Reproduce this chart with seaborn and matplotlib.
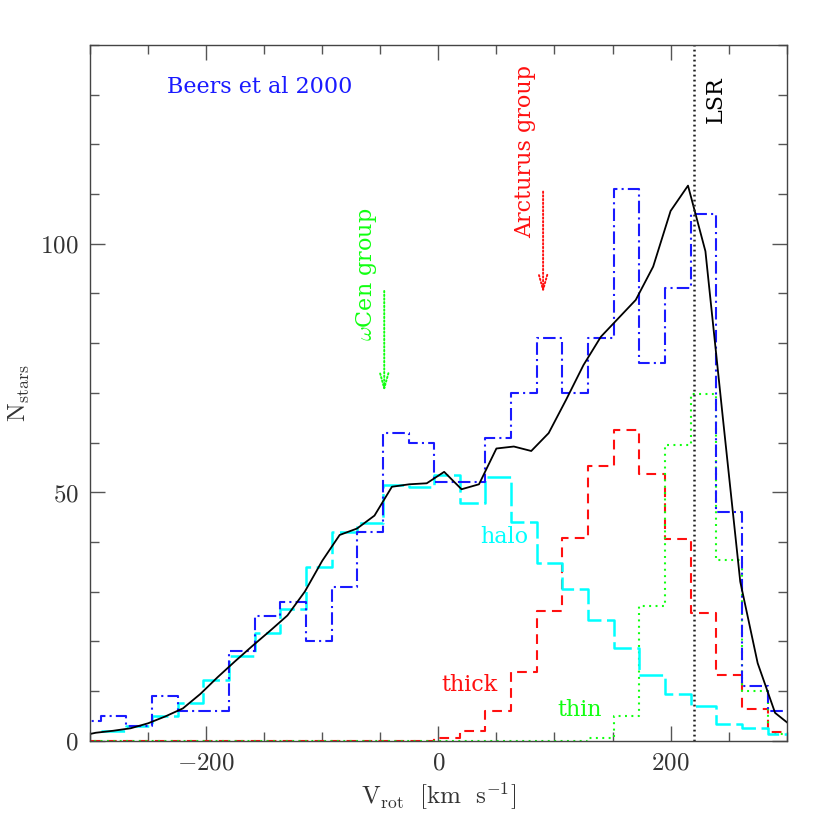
import numpy as np
import pandas as pd
import matplotlib
matplotlib.use("Agg")
import matplotlib.pyplot as plt
import seaborn as sns
from matplotlib.ticker import MultipleLocator, FuncFormatter

# ---------------- data ----------------
bin_edges = [-312.8, -290.7, -268.6, -246.5, -224.4, -202.3, -180.2, -158.2,
             -136.1, -114.0, -91.9, -69.8, -47.7, -25.6, -3.5, 18.6, 40.6,
             62.7, 84.8, 106.9, 129.0, 151.1, 173.2, 195.3, 217.4, 239.5,
             261.6, 283.6, 305.7]

beers_counts = [4, 5, 3, 9, 6, 6, 18, 25, 28, 20, 31, 42, 62, 60, 52, 52, 61,
                70, 81, 70, 81, 111, 76, 91, 106, 46, 11, 6]

# halo model starts at the second bin edge
halo_counts = [2, 3, 5, 7.5, 12.2, 17, 21.6, 26.6, 35, 41.9, 43.9, 51.4, 51.1,
               53.5, 47.8, 53.1, 44, 35.8, 30.5, 24.3, 18.7, 13.2, 9.4, 7, 3.4,
               2.5, 1.3]

thick_counts = [0, 0, 0, 0, 0, 0, 0, 0, 0, 0, 0, 0, 0, 0, 0.5, 2, 6, 13.9, 26,
                40.8, 55.3, 62.5, 53.6, 40.6, 25.6, 13.2, 6.4, 1.8]

thin_counts = [0, 0, 0, 0, 0, 0, 0, 0, 0, 0, 0, 0, 0, 0, 0, 0, 0, 0, 0, 0, 0.5,
               5, 27.1, 59.6, 69.8, 36.4, 10.1, 1.3]

model_v = [-300, -295, -280, -265, -250, -235, -220, -205, -190, -175, -160,
           -145, -130, -115, -100, -85, -70, -55, -40, -25, -10, 5, 20, 35,
           50, 65, 80, 95, 110, 125, 140, 155, 170, 185, 200, 215, 230, 245,
           260, 275, 290, 305]
model_n = [1.35, 1.6, 2.0, 2.5, 3.5, 4.9, 6.5, 9.4, 12.8, 16.0, 19.1, 22.1,
           25.2, 30.0, 36.2, 41.4, 42.7, 45.3, 51.1, 51.6, 51.8, 54.1, 50.6,
           51.6, 58.8, 59.2, 58.3, 61.9, 68.6, 75.6, 81.3, 85.0, 88.7, 95.4,
           106.6, 111.7, 98.5, 65.0, 32.0, 15.6, 5.6, 2.8]

LSR_V = 220

# ---------------- style ----------------
sns.set_theme(style="ticks")
plt.rcParams["font.family"] = ["DejaVu Serif"]
plt.rcParams["mathtext.fontset"] = "cm"
plt.rcParams["lines.scale_dashes"] = False

fig = plt.figure(figsize=(8.3, 8.3), dpi=100)
ax = fig.add_axes([90 / 830, 1 - 740.7 / 830, (786.7 - 90) / 830, (740.7 - 45) / 830])


def centers(edges):
    return [(a + b) / 2 for a, b in zip(edges[:-1], edges[1:])]


hist_lw = 1.5
sns.histplot(x=centers(bin_edges), weights=thick_counts, bins=bin_edges,
             element="step", fill=False, color="#ff1010", linewidth=hist_lw,
             linestyle=(0, (7, 4.5)), ax=ax)
sns.histplot(x=centers(bin_edges), weights=thin_counts, bins=bin_edges,
             element="step", fill=False, color="#10ff10", linewidth=hist_lw,
             linestyle=(0, (1.4, 3.2)), ax=ax)
sns.histplot(x=centers(bin_edges[1:]), weights=halo_counts, bins=bin_edges[1:],
             element="step", fill=False, color="#00ffff", linewidth=hist_lw + 0.3,
             linestyle=(0, (17, 4)), ax=ax)
sns.histplot(x=centers(bin_edges), weights=beers_counts, bins=bin_edges,
             element="step", fill=False, color="#1a1aff", linewidth=hist_lw,
             linestyle=(0, (9, 3, 1.5, 3)), ax=ax)
sns.lineplot(x=model_v, y=model_n, color="black", linewidth=1.3,
             estimator=None, sort=False, ax=ax)

ax.axvline(LSR_V, color="#202020", linewidth=1.8, linestyle=(0, (1.3, 2.3)))

ax.set_xlim(-300, 300)
ax.set_ylim(0, 140)

ax.xaxis.set_major_locator(MultipleLocator(200))
ax.xaxis.set_minor_locator(MultipleLocator(50))
ax.yaxis.set_major_locator(MultipleLocator(50))
ax.yaxis.set_minor_locator(MultipleLocator(10))
fmt = FuncFormatter(lambda v, p: r"$%d$" % int(round(v)))
ax.xaxis.set_major_formatter(fmt)
ax.yaxis.set_major_formatter(fmt)
ax.tick_params(which="both", direction="in", top=True, right=True,
               colors="#555555", labelcolor="#333333", labelsize=18)
ax.tick_params(which="major", length=11, width=1.0, pad=8)
ax.tick_params(which="minor", length=6.5, width=1.0)
for s in ax.spines.values():
    s.set_color("#444444")
    s.set_linewidth(1.0)

ax.set_xlabel(r"$\mathrm{V_{rot}\ \ [km\ \ s^{-1}]}$", fontsize=18,
              color="#333333", labelpad=4)
ax.set_ylabel(r"$\mathrm{N_{stars}}$", fontsize=18, color="#333333",
              labelpad=6)

# annotations
txt = dict(fontsize=16, family="DejaVu Serif", ha="center", va="center")
ax.text(-154, 131.5, "Beers et al 2000", color="#1a1aff", **txt)
ax.text(57, 41, "halo", color="#00ffff", **txt)
ax.text(26.8, 11.2, "thick", color="#ff1010", **txt)
ax.text(121.8, 6.2, "thin", color="#10ff10", **txt)
ax.text(239, 129, "LSR", color="black", rotation=90, **txt)
ax.text(74.9, 118.5, "Arcturus group", color="#ff1010", rotation=90, **txt)
ax.text(-61.9, 93.9, r"$\omega$Cen group", color="#10ff10", rotation=90, **txt)

ax.annotate("", xy=(90.2, 90), xytext=(90.2, 110.5),
            arrowprops=dict(arrowstyle="->,head_length=0.9,head_width=0.25",
                            color="#ff1010", lw=1.4, linestyle=":",
                            shrinkA=0, shrinkB=0))
ax.annotate("", xy=(-46.6, 70.2), xytext=(-46.6, 90.5),
            arrowprops=dict(arrowstyle="->,head_length=0.9,head_width=0.25",
                            color="#10ff10", lw=1.4, linestyle=":",
                            shrinkA=0, shrinkB=0))

fig.savefig("out.png", dpi=100, facecolor="white")
